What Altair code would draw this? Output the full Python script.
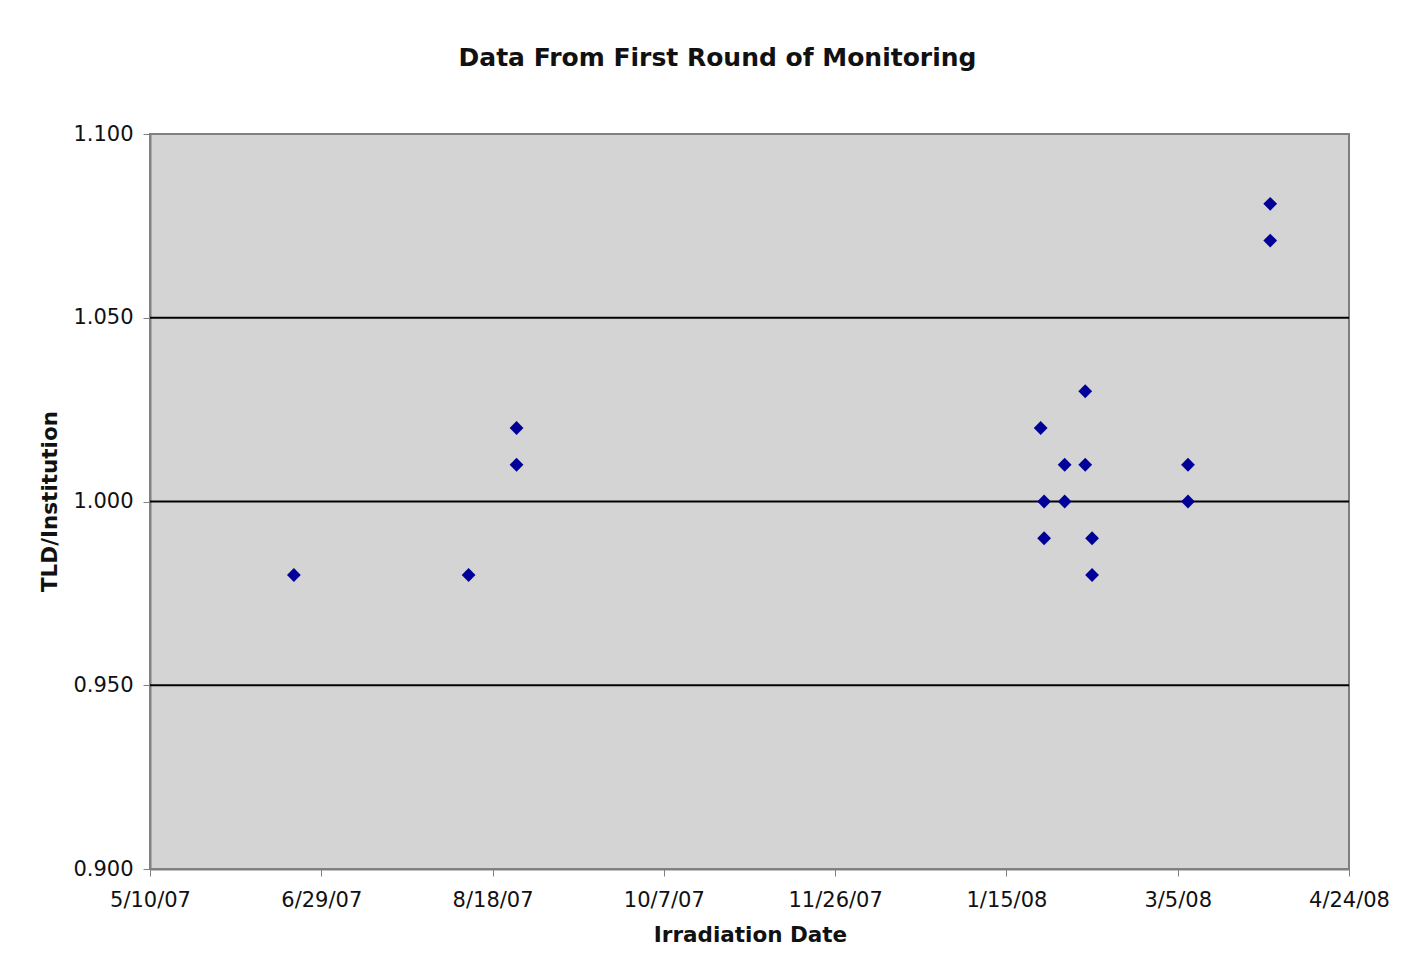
import altair as alt
import pandas as pd

# Data
dates = [
    "2007-06-21", "2007-08-11", "2007-08-25", "2007-08-25",
    "2008-01-25", "2008-01-26", "2008-01-26",
    "2008-02-01", "2008-02-01",
    "2008-02-07", "2008-02-07",
    "2008-02-09", "2008-02-09",
    "2008-03-08", "2008-03-08",
    "2008-04-01", "2008-04-01",
]
ratios = [
    0.98, 0.98, 1.02, 1.01,
    1.02, 1.00, 0.99,
    1.01, 1.00,
    1.03, 1.01,
    0.99, 0.98,
    1.01, 1.00,
    1.081, 1.071,
]
tick_dates = [(2007, 5, 10), (2007, 6, 29), (2007, 8, 18), (2007, 10, 7),
              (2007, 11, 26), (2008, 1, 15), (2008, 3, 5), (2008, 4, 24)]
y_ticks = [0.90, 0.95, 1.00, 1.05, 1.10]
grid_values = [0.95, 1.00, 1.05]

df = pd.DataFrame({"date": [d + "T00:00:00" for d in dates], "ratio": ratios})
grid_df = pd.DataFrame({"g": grid_values})

tick_dt = [alt.DateTime(year=y, month=m, date=d) for (y, m, d) in tick_dates]

FONT = "DejaVu Sans"

x_enc = alt.X(
    "date:T",
    scale=alt.Scale(domain=[tick_dt[0], tick_dt[-1]], nice=False),
    axis=alt.Axis(
        values=tick_dt, format="%-m/%-d/%y", title="Irradiation Date",
        grid=False, domainColor="#808080", domainWidth=2, tickColor="#808080",
        tickSize=7, labelFontSize=21, labelFont=FONT, labelColor="#111",
        labelPadding=13, labelFlush=False, labelOverlap=False,
        titleFont=FONT, titleFontSize=21.5, titleFontWeight="bold", titleColor="#111",
        titleX=600, titleY=66, titleBaseline="middle", titleAlign="center",
    ),
)
y_scale = alt.Scale(domain=[0.9, 1.1], nice=False, zero=False)

points = alt.Chart(df).mark_point(
    shape="diamond", filled=True, color="#000099", size=190, opacity=1
).encode(
    x=x_enc,
    y=alt.Y(
        "ratio:Q", scale=y_scale,
        axis=alt.Axis(
            values=y_ticks, format=".3f", title="TLD/Institution", grid=False,
            domainColor="#808080", domainWidth=2, tickColor="#808080", tickSize=7,
            labelFontSize=21, labelFont=FONT, labelColor="#111", labelPadding=10,
            titleFont=FONT, titleFontSize=21.5, titleFontWeight="bold", titleColor="#111",
            titleX=-100, titleY=367, titleAngle=-90, titleAlign="center",
            titleBaseline="middle",
        ),
    ),
)

grid = alt.Chart(grid_df).mark_rule(color="black", strokeWidth=2).encode(
    y=alt.Y("g:Q", scale=y_scale)
)

chart = alt.layer(grid, points).properties(
    width=1199,
    height=735,
    title=alt.TitleParams(
        "Data From First Round of Monitoring", font=FONT, fontSize=25,
        fontWeight="bold", color="#111", anchor="middle", frame="group",
        offset=52, dx=-32,
    ),
    autosize=alt.AutoSizeParams(type="none"),
    padding={"left": 142, "top": 126, "right": 59, "bottom": 95},
).configure(
    background="white"
).configure_view(
    fill="#d4d4d4", stroke="#808080", strokeWidth=2
)

chart.save("out.html", embed_options={"renderer": "svg", "actions": False})
